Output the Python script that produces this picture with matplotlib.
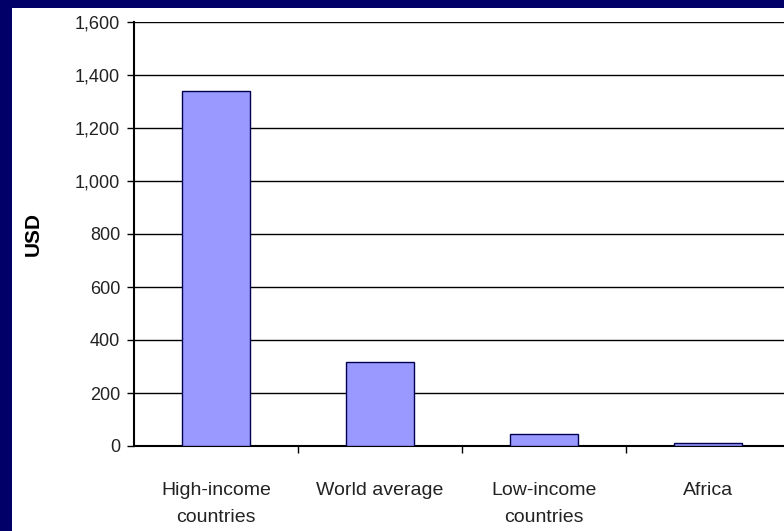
import matplotlib.pyplot as plt
from matplotlib.patches import Rectangle
from matplotlib.ticker import FuncFormatter

categories = ['High-income\ncountries', 'World average', 'Low-income\ncountries', 'Africa']
values = [1340, 317, 45, 12]
yticks = [0, 200, 400, 600, 800, 1000, 1200, 1400, 1600]

plt.rcParams['font.family'] = ['Liberation Sans', 'DejaVu Sans']

fig = plt.figure(figsize=(7.84, 5.31), dpi=100)
fig.patch.set_facecolor('#000068')
# white panel on the navy slide
fig.patches.append(Rectangle((12 / 784, 0), 1, 1 - 8 / 531, transform=fig.transFigure,
                             facecolor='white', edgecolor='none', zorder=-10))

ax = fig.add_axes([134 / 784, 85 / 531, 656 / 784, 424 / 531])
ax.set_facecolor('white')

x = range(len(categories))
ax.bar(x, values, width=0.41, color='#9999ff', edgecolor='#000050', linewidth=1, zorder=3)

ax.set_xlim(-0.5, 3.5)
ax.set_ylim(0, 1600)
ax.set_yticks(yticks)
ax.yaxis.set_major_formatter(FuncFormatter(lambda v, p: f'{int(v):,}'))
ax.grid(axis='y', color='black', linewidth=1, zorder=1)

ax.set_xticks(list(x))
ax.set_xticklabels(categories, fontsize=14, linespacing=1.75, color='#222222')
ax.set_xticks([0.5, 1.5, 2.5], minor=True)
ax.tick_params(axis='x', which='major', length=0, pad=26)
ax.tick_params(axis='x', which='minor', length=5, width=1, color='black')
ax.tick_params(axis='y', length=5, width=1, labelsize=13, pad=5, labelcolor='#222222')

for s in ['top', 'right']:
    ax.spines[s].set_visible(False)
ax.spines['left'].set_linewidth(1.5)
ax.spines['bottom'].set_linewidth(1.5)

ax.set_ylabel('USD', fontsize=15, fontweight='bold')
ax.yaxis.set_label_coords(43 / 784, 297 / 531, transform=fig.transFigure)

fig.savefig('out.png', dpi=100, facecolor=fig.get_facecolor())
